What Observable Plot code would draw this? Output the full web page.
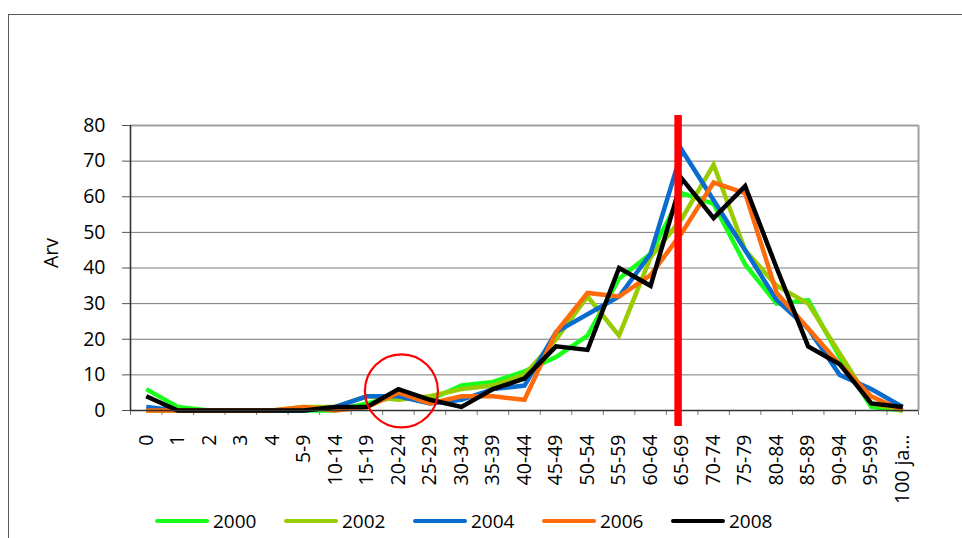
<!DOCTYPE html>
<html>
<head>
<meta charset="utf-8">
<script src="https://cdn.jsdelivr.net/npm/d3@7"></script>
<script src="https://cdn.jsdelivr.net/npm/@observablehq/plot@0.6"></script>
<style>
  html, body { margin: 0; padding: 0; background: #fff; overflow: hidden; }
  #wrap { position: relative; width: 962px; height: 538px; }
  #border { position: absolute; left: 8px; top: 14px; width: 2000px; height: 2000px; border: 1px solid #5a5a5a; }
  #chart { position: absolute; left: 0; top: 0; }
  #legend { position: absolute; left: 155px; top: 508px; display: flex; align-items: center;
            font-family: "Open Sans", sans-serif; font-size: 19px; color: #000; }
  .item { display: flex; align-items: center; width: 129px; }
  .sw { width: 54px; height: 4.5px; border-radius: 2.5px; margin-right: 4px; }
</style>
</head>
<body>
<div id="wrap">
  <div id="border"></div>
  <div id="chart"></div>
  <div id="legend"></div>
</div>
<script>
const categories = ["0","1","2","3","4","5-9","10-14","15-19","20-24","25-29","30-34","35-39","40-44","45-49","50-54","55-59","60-64","65-69","70-74","75-79","80-84","85-89","90-94","95-99","100 ja…"];
const years = ["2000","2002","2004","2006","2008"];
const colors = ["#1aff1a","#99cc00","#0a6ccf","#ff6a0a","#000000"];
const s2000 = [6,1,0,0,0,0,0,2,4,3,7,8,11,15,21,37,44,61,58,41,30,31,15,1,0];
const s2002 = [0,0,0,0,0,1,1,4,3,4,6,7,10,20,32,21,43,54,69,45,35,30,16,2,0];
const s2004 = [1,0,0,0,0,0,1,4,4,2,3,6,7,22,27,32,44,73,59,45,31,23,10,6,1];
const s2006 = [0,0,0,0,0,1,0,1,5,2,4,4,3,22,33,32,38,50,64,61,33,23,13,4,0];
const s2008 = [4,0,0,0,0,0,1,1,6,3,1,6,9,18,17,40,35,65,54,63,40,18,13,2,1];
const yTicks = [0,10,20,30,40,50,60,70,80];
const yLabel = "Arv";
// annotations: vertical red marker at 65-69, red circle around 20-24
const markerCategory = "65-69";
const markerSpan = [-4.5, 82.8];
const circleCategory = "20-24";
const circleValue = 5.5;

const seriesValues = [s2000, s2002, s2004, s2006, s2008];
const rows = [];
years.forEach((yr, k) => seriesValues[k].forEach((v, i) => rows.push({year: yr, i, v})));

const idx = categories.map((c, i) => i);
const bounds = d3.range(categories.length + 1).map(i => i - 0.5);
const gridTicks = yTicks.slice(1, -1);
const xMin = -0.5, xMax = categories.length - 0.5;
const FS = 19.5;

const marks = [
  Plot.gridY(gridTicks, {stroke: "#7a7a7a", strokeOpacity: 1, strokeWidth: 1}),
  Plot.ruleY([yTicks[yTicks.length - 1]], {stroke: "#a0a0a0", strokeWidth: 2}),
  Plot.ruleX([xMax], {stroke: "#a0a0a0", strokeWidth: 2}),
  Plot.axisY({ticks: yTicks, tickSize: 8, tickPadding: 17, stroke: "#555", fill: "#000", label: null, fontSize: FS}),
  Plot.axisX({ticks: bounds, tickSize: 5, text: null, stroke: "#777", label: null}),
  Plot.axisX({ticks: idx, tickSize: 0, tickPadding: 24, tickRotate: -90, fill: "#000",
              tickFormat: i => categories[i], label: null, fontSize: FS}),
  Plot.text([yLabel], {frameAnchor: "left", dx: -79, rotate: -90, fill: "#000", fontSize: FS}),
];
years.forEach((yr, k) => {
  marks.push(Plot.line(rows.filter(r => r.year === yr), {
    x: "i", y: "v", stroke: colors[k], strokeWidth: 4.5,
    strokeLinejoin: "miter", strokeLinecap: "butt", strokeMiterlimit: 4
  }));
});
marks.push(
  Plot.ruleX([xMin], {stroke: "#333", strokeWidth: 1.6}),
  Plot.ruleY([0], {stroke: "#333", strokeWidth: 1.6}),
  Plot.ruleX([markerCategory], {x: d => categories.indexOf(d), y1: markerSpan[0], y2: markerSpan[1],
    stroke: "#ff0000", strokeWidth: 7.5, dx: -4}),
  Plot.dot([circleCategory], {x: d => categories.indexOf(d), y: () => circleValue, r: 36.5,
    stroke: "#ff0000", strokeWidth: 2.2, fill: "none", dx: 3})
);

const chart = Plot.plot({
  width: 962,
  height: 500,
  marginLeft: 130,
  marginRight: 44,
  marginTop: 125,
  marginBottom: 90,
  style: {fontFamily: "Open Sans, sans-serif", fontSize: "19px", color: "#000", background: "transparent", overflow: "visible"},
  x: {type: "linear", domain: [xMin, xMax], axis: null},
  y: {domain: [yTicks[0], yTicks[yTicks.length - 1]], axis: null},
  marks
});
document.getElementById("chart").appendChild(chart);

const legend = document.getElementById("legend");
years.forEach((yr, k) => {
  const it = document.createElement("div");
  it.className = "item";
  const sw = document.createElement("div");
  sw.className = "sw";
  sw.style.background = colors[k];
  const t = document.createElement("span");
  t.textContent = yr;
  it.appendChild(sw); it.appendChild(t);
  legend.appendChild(it);
});
</script>
</body>
</html>
